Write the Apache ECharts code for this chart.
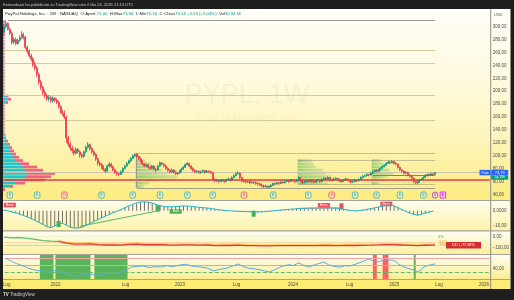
<!DOCTYPE html>
<html>
<head>
<meta charset="utf-8">
<script src="https://cdn.jsdelivr.net/npm/echarts@6.0.0/dist/echarts.min.js"></script>
<style>
html,body{margin:0;padding:0;background:#1e1e1e;overflow:hidden;}
#chart{width:514px;height:300px;}
</style>
</head>
<body>
<div id="chart"></div>
<script>
// ================= DATA =================
const categories = Array.from({length: 250}, (_, i) => 'W' + i); // weekly bars
const firstOpen = 292;
const closes = [
300,305,296,290,276,280,274,279,283,288,
284,268,262,255,250,241,236,226,214,206,
198,193,188,190,185,189,186,183,176,168,
166,160,128,118,112,108,104,110,106,101,
99,106,113,117,111,106,102,95,88,86,
82,79,76,84,87,83,78,74,72,71,
75,80,84,88,92,96,100,102,99,95,
91,87,84,86,82,80,84,79,78,84,
89,87,84,80,77,75,78,74,72,73,
76,79,82,86,88,84,80,77,75,76,
74,75,77,74,76,75,74,63,61,62,
60,61,62,60,62,64,62,66,69,72,
73,66,61,60,59,60,58,59,58,57,
56,55,54,52,53,51,52,54,57,56,
58,57,59,58,60,61,60,62,61,60,
62,66,61,58,59,61,60,62,60,59,
61,62,60,63,65,64,66,63,62,64,
65,63,61,60,62,64,63,61,59,60,
62,61,63,66,68,69,71,70,73,75,
77,76,78,80,83,85,88,90,89,91,
88,87,82,78,76,73,74,70,68,65,
60,58,59,62,63,66,69,71,70,72,
71,73.58];
const highs = [
304,310,307,299,293,284,283,282,287,293,
291,286,271,265,258,253,246,239,229,218,
209,202,196,194,193,192,191,189,185,178,
171,170,162,131,121,115,111,113,112,108,
104,108,116,121,119,113,108,104,97,91,
89,85,81,86,90,89,85,80,76,74,
77,82,86,90,94,98,102,104,103,100,
97,93,89,88,87,84,86,85,81,86,
91,90,88,86,82,79,80,79,76,75,
78,81,84,88,90,89,85,82,79,78,
77,77,79,78,78,77,77,75,65,64,
63,63,64,63,64,66,65,68,71,74,
76,74,67,63,62,62,61,61,60,60,
59,58,57,55,55,54,54,56,58,58,
60,59,61,61,62,63,62,64,63,63,
64,68,67,62,61,63,62,64,63,61,
63,64,63,65,67,66,68,67,64,66,
67,66,64,62,64,66,65,64,62,62,
64,63,65,68,70,71,73,72,75,77,
79,79,80,82,85,87,90,92,92,93,
92,90,88,83,79,77,76,75,71,69,
66,61,62,64,65,68,71,72,72,74,
73,73.94];
const lows = [
288,297,294,287,272,273,271,272,277,281,
280,265,258,252,246,238,232,222,210,202,
194,189,185,184,182,182,183,180,173,165,
162,157,120,114,108,104,100,102,103,97,
96,97,104,111,108,103,99,92,85,83,
79,76,73,75,82,81,76,72,69,68,
70,74,79,83,87,90,95,98,97,93,
89,85,82,82,80,78,79,77,74,77,
83,85,82,78,75,72,73,72,70,70,
72,75,78,81,85,82,78,75,73,73,
72,72,74,72,73,73,72,61,59,59,
58,59,60,58,59,61,60,61,65,68,
71,64,59,58,57,58,56,57,56,55,
54,53,52,50,51,50,50,51,53,54,
55,55,56,57,57,59,58,59,60,58,
59,61,59,56,57,58,58,59,58,57,
58,60,58,59,62,62,63,61,60,61,
63,61,59,58,59,61,61,59,57,58,
59,59,60,62,65,67,68,68,69,72,
74,74,75,77,79,82,84,87,87,88,
86,85,80,76,74,71,71,68,66,63,
57,56,56,58,61,62,65,68,68,69,
69,70.16];

const xTickIndex = [1,26,62,90,119,148,177,200,223,246];
const xTickText  = ['Lug','2022','Lug','2023','Lug','2024','Lug','2025','Lug','2026'];
const priceTicks = [40,60,80,100,120,140,160,180,200,220,240,260,280,300];
const macdTicks = [0,-10];
const ddTicks = [0,-100];
const rsiTicks = [40];

// oscillator (one value every 2 weeks)
const macdValues = [
0.5,0,-0.8,-1.5,-2.3,-3.2,-4.2,-5.3,-6.5,-7.8,
-9.2,-10.6,-11.3,-10.2,-8.6,-8.4,-9.6,-11.0,-11.6,-11.5,
-11.0,-9.8,-8.5,-7.2,-6.0,-4.8,-3.6,-2.5,-1.4,-0.4,
0.8,2.0,3.2,4.3,5.2,5.8,5.9,5.7,5.0,4.2,
3.4,2.8,2.6,2.6,2.8,3.0,3.2,3.1,2.9,2.6,
2.3,2.0,1.8,1.5,1.1,0.7,0.4,0.1,-0.1,-0.3,
-0.4,-0.5,-0.6,-0.7,-0.8,-0.9,-0.8,-0.6,-0.4,-0.1,
0.2,0.5,0.7,0.9,1.1,1.3,1.5,1.6,1.7,1.8,
1.8,1.9,1.9,1.9,1.8,1.7,1.4,1.0,0.5,0.1,
-0.2,0.0,0.4,0.9,1.4,1.9,2.5,3.1,3.6,3.9,
3.2,2.0,0.8,-0.5,-1.6,-2.5,-3.0,-2.4,-1.6,-0.9,
-0.3];
const macdSignalWeeks  = [3, 28, 79, 88, 128, 164, 173, 196];
const macdSignalValues = [3.8, -8.9, 1.5, -0.5, -2, 3.6, 3, 4.5];
const macdSignalSide   = ['bear','bull','bull','bull','bull','bear','bear','bear'];
const macdSignalText   = ['Bear','','','Bull','','Bear','','Bear'];
const bullDivergence = [[39, -10.4], [80, 0.2]];
const bearDivergence = [[150, 1.5], [173, 1.9]];

// drawdown from ATH, %
const ddPoints = [[0,-3.2],[1,-1.6],[4,-11],[8,-8.7],[12,-15.5],[16,-23.9],[20,-36.1],[24,-40.3],[28,-43.2],[32,-58.7],[36,-66.5],[40,-68.1],[44,-64.2],[48,-71.6],[52,-75.5],[56,-74.8],[60,-75.8],[64,-70.3],[68,-68.1],[72,-72.9],[76,-72.9],[80,-71.3],[84,-75.2],[88,-76.8],[92,-73.5],[96,-74.2],[100,-76.1],[104,-75.5],[108,-80.3],[112,-80],[116,-80],[120,-76.5],[124,-81],[128,-81.3],[132,-82.6],[136,-83.2],[140,-81.3],[144,-80.6],[148,-80.3],[152,-80.3],[156,-80.6],[160,-80.3],[164,-79],[168,-80],[172,-80.3],[176,-79.7],[180,-80],[184,-78.1],[188,-76.5],[192,-74.8],[196,-71.6],[200,-71.6],[204,-75.5],[208,-78.1],[212,-81],[216,-77.7],[220,-77.1],[221,-76.3]];
const ddLevels = [0, -50, -75];
const ddLevelText = ['0%', '-50%', '-75%'];
const ddLast = -77.58;

// RSI
const rsiPoints = [[0,71],[2,66],[4,60],[6,55],[8,51],[10,47],[12,42],[15,37],[18,34],[20,33],[22,31],[25,35],[27,33],[29,31],[31,28],[33,22],[35,21],[37,19],[39,22],[41,26],[43,23],[45,24],[47,22],[49,21],[51,24],[54,28],[57,26],[60,32],[63,37],[65,45],[68,47],[71,48],[74,44],[77,46],[80,45],[83,49],[86,46],[88,48],[90,51],[93,53],[96,48],[99,46],[101,45],[104,42],[107,34],[110,38],[112,40],[114,42],[117,48],[120,54],[122,47],[125,42],[128,40],[131,37],[134,33],[136,31],[139,38],[141,44],[143,48],[146,52],[148,49],[151,57],[153,51],[156,45],[158,49],[161,55],[164,59],[166,52],[169,47],[172,45],[175,49],[177,48],[180,53],[183,59],[185,64],[187,68],[189,63],[191,59],[193,62],[195,66],[197,65],[199,65],[201,60],[202,54],[204,48],[205,45],[207,41],[210,37],[212,31],[214,38],[215,45],[217,49],[219,52],[221,54]];
const rsiBuyZones  = [[18,25],[26,44],[46,63],[210,211]];
const rsiSellZones = [[189,191],[194,197]];
const rsiLevels = [70, 50, 30];

// events
const earningsWeeks = [3,17,50,66,80,94,107,138,156,180,191,203,215];
const alertWeeks = [31,123,168];
const otherWeeks = [221];
const futureWeeks = [225];

// whole-history volume profile (5 USD bins)
const profileLow  = [45,50,55,60,65,70,75,80,85,90,95,100,105,110,115,120,125,130,135,140,145,150,155,160,165,170,175,180,185,190,195,200,205,210,215,220,225,230,235,240,245,250,255,260,265,270,275,280,285,290,295,300,305];
const profileUp   = [10,60,120,200,220,240,220,200,160,120,100,80,70,60,50,30,20,15,10,10,10,10,10,10,10,10,10,25,45,30,10,10,10,10,10,10,10,10,10,10,10,10,10,10,10,10,10,10,12,12,12,12,12];
const profileDown = [10,40,100,220,260,280,180,140,100,80,60,50,40,30,20,20,10,10,5,5,5,5,5,5,5,5,5,25,35,25,5,5,5,5,5,5,5,5,5,5,5,5,5,5,5,5,5,5,8,8,8,8,8];
// fixed-range volume profiles
const vp1Start = 68, vp1Low = [50,55,60,65,70,75,80,85,90,95,100], vp1Vol = [80,140,400,420,320,270,180,150,100,60,30];
const vp2Start = 151, vp2Low = [55,60,65,70,75,80,85,90], vp2Vol = [300,380,340,280,260,180,160,140];
const vp3Start = 189, vp3Low = [55,60,65,70,75,80,85,90], vp3Vol = [80,120,160,220,180,140,120,100];
const binSize = 5;

// horizontal levels
const athPrice = 310.16;
const resistanceLevels = [263, 244, 193, 155.4];
const rangeHigh = 104, rangeLow = 50.25;
const box2High = 93.3, box2Low = 56;
const pocPrice = 63, poc3Price = 70;
const lastClose = 73.58, postPrice = 73.79;

// ================= CHART =================
const ohlc = closes.map((c, i) => [i === 0 ? firstOpen : closes[i - 1], c, lows[i], highs[i]]);
const macdPairs = macdValues.map((v, k) => [2 * k, v]);
const ddGreen = ddPoints.filter(p => p[0] <= 28);
const ddRed = ddPoints.filter(p => p[0] >= 28);

const FONT = 'Liberation Sans';
const GL = 3, GR = 23.3;
const AXIS_COLOR = '#4a4a4a';
const VOL_PX = 0.1;
const EVENT_Y = 39;

const chart = echarts.init(document.getElementById('chart'), null, {renderer: 'canvas', width: 514, height: 300});

function fmtNum(v, d) { return (v < 0 ? '\u2212' : '') + Math.abs(v).toFixed(d).replace('.', ','); }

function yAxisFor(gi, min, max, ticks, fmt) {
  return {
    type: 'value', gridIndex: gi, position: 'right', min, max, z: 10,
    axisLine: {show: false}, axisTick: {show: false}, splitLine: {show: false},
    axisLabel: {customValues: ticks, formatter: fmt, fontSize: 4.5, color: AXIS_COLOR, margin: 2, fontFamily: FONT}
  };
}
function xAxisFor(gi) {
  return {
    type: 'category', gridIndex: gi, data: categories, boundaryGap: true, show: gi === 3, z: 10,
    axisLine: {show: false}, axisTick: {show: false}, splitLine: {show: false},
    axisLabel: {
      interval: (idx) => xTickIndex.includes(idx),
      formatter: (val, idx) => { const k = xTickIndex.indexOf(idx); return k >= 0 ? xTickText[k] : ''; },
      fontSize: 4.5, color: AXIS_COLOR, margin: 3, fontFamily: FONT
    }
  };
}

function profileRender(params, api) {
  const start = api.value(0), lo = api.value(1), hi = api.value(2), up = api.value(3), dn = api.value(4);
  const half = api.size([1, 0])[0] / 2;
  const top = api.coord([start, hi]), bot = api.coord([start, lo]);
  const x0 = top[0] - half, y = top[1] + 0.25, h = Math.max(bot[1] - top[1] - 0.5, 0.4);
  const ch = [{type: 'rect', shape: {x: x0, y, width: up * VOL_PX, height: h}, style: {fill: 'rgba(0,188,212,0.85)'}}];
  if (dn > 0) ch.push({type: 'rect', shape: {x: x0 + up * VOL_PX, y, width: dn * VOL_PX, height: h}, style: {fill: 'rgba(236,64,122,0.8)'}});
  return {type: 'group', children: ch};
}
function vpRender(params, api) {
  const start = api.value(0), lo = api.value(1), hi = api.value(2), vol = api.value(3);
  const half = api.size([1, 0])[0] / 2;
  const top = api.coord([start, hi]), bot = api.coord([start, lo]);
  return {type: 'rect', shape: {x: top[0] - half, y: top[1] + 0.25, width: vol * VOL_PX, height: Math.max(bot[1] - top[1] - 0.5, 0.4)},
    style: {fill: {type: 'linear', x: 0, y: 0, x2: 1, y2: 0, colorStops: [{offset: 0, color: 'rgba(76,175,80,0.55)'}, {offset: 1, color: 'rgba(129,199,132,0.35)'}]}}};
}
const profileData = profileLow.map((lo, k) => [0, lo, lo + binSize, profileUp[k], profileDown[k]]);
const vpData = []
  .concat(vp1Low.map((lo, k) => [vp1Start, lo, lo + binSize, vp1Vol[k]]))
  .concat(vp2Low.map((lo, k) => [vp2Start, lo, lo + binSize, vp2Vol[k]]))
  .concat(vp3Low.map((lo, k) => [vp3Start, lo, lo + binSize, vp3Vol[k]]));

function seg(i0, i1, v, color, type, width) {
  return [{coord: [i0, v], lineStyle: {color, type, width}}, {coord: [i1, v]}];
}
const mainLines = [
  seg(2, 221, athPrice, '#9a9a9a', 'solid', 1),
  ...resistanceLevels.map(v => seg(0, 221, v, '#d4cb9c', 'solid', 1)),
  seg(vp1Start, 221, rangeHigh, '#8a8a80', 'dotted', 1),
  seg(vp1Start, 221, rangeLow, '#a09e8c', 'solid', 1),
  seg(vp2Start, 221, box2High, '#8a8a80', 'dotted', 1),
  seg(vp2Start, 221, box2Low, '#8a8a80', 'dotted', 1),
  seg(0, 249, lastClose, '#c9c6b4', 'solid', 1),
  seg(0, 249, pocPrice, '#f23645', 'solid', 1.5),
  seg(vp3Start, 221, poc3Price, '#5c7cfa', 'solid', 1),
  [{coord: [vp1Start, rangeHigh], lineStyle: {color: '#9a9a8a', width: 1, type: 'solid'}}, {coord: [vp1Start, rangeLow]}]
];

function eventSeries(weeks, symbol, fill, border, letter) {
  return {
    type: 'scatter', xAxisIndex: 0, yAxisIndex: 0, z: 6, silent: true,
    data: weeks.map(i => [i, EVENT_Y]), symbol, symbolSize: [5.5, 6],
    itemStyle: {color: fill, borderColor: border, borderWidth: 0.9},
    label: {show: true, position: 'inside', formatter: letter, fontSize: 3.6, color: border, fontFamily: FONT, fontWeight: 'bold'}
  };
}

const bg = (y, h, stops) => ({type: 'rect', z: 0, silent: true, shape: {x: GL, y, width: 507.7, height: h},
  style: {fill: {type: 'linear', x: 0, y: 0, x2: 0, y2: 1, colorStops: stops.map((c, k) => ({offset: k / (stops.length - 1), color: c}))}}});
const hline = (y, x1, x2, color) => ({type: 'line', z: 50, silent: true, shape: {x1, y1: y, x2, y2: y}, style: {stroke: color, lineWidth: 1}});

const baseGraphics = [
  bg(9, 191, ['#fffef8', '#fffbe2', '#fef5bd', '#fcec80']),
  bg(200, 30.7, ['#fffdf0', '#fdf3a8']),
  bg(230.7, 23.3, ['#fffef6', '#fcf09c']),
  bg(254, 25, ['#fffef4', '#fcee92']),
  {type: 'rect', z: 0, silent: true, shape: {x: GL, y: 279, width: 507.7, height: 10}, style: {fill: '#fdec74'}},
  hline(200.5, GL, 510.7, '#a5a39a'),
  hline(231, GL, 510.7, '#a5a39a'),
  hline(254.5, GL, 510.7, '#a5a39a'),
  hline(279.5, GL, 510.7, '#a5a39a'),
  {type: 'line', z: 50, silent: true, shape: {x1: 490.7, y1: 9, x2: 490.7, y2: 289}, style: {stroke: '#8f8d85', lineWidth: 1}},
  {type: 'line', z: 50, silent: true, shape: {x1: 510.5, y1: 9, x2: 510.5, y2: 289}, style: {stroke: '#8f8d85', lineWidth: 1}},
  // watermark
  {type: 'text', z: 1, silent: true, style: {x: 247, y: 96, text: 'PYPL, 1W', font: '27px "Liberation Sans"', fill: 'rgba(150,190,140,0.1)', align: 'center', verticalAlign: 'middle', textAlign: 'center', textVerticalAlign: 'middle'}},
  {type: 'text', z: 1, silent: true, style: {x: 247, y: 118, text: 'PayPal Holdings, Inc.', font: '10.5px "Liberation Sans"', fill: 'rgba(150,190,140,0.1)', align: 'center', verticalAlign: 'middle', textAlign: 'center', textVerticalAlign: 'middle'}},
  // top bar & header
  {type: 'text', z: 100, silent: true, style: {x: 3, y: 4.5, text: 'Kemarduzzi ha pubblicato su TradingView.com il Giu 24, 2025 21:14 UTC', font: '4px "Liberation Sans"', fill: '#c9c9c9', verticalAlign: 'middle', textVerticalAlign: 'middle'}},
  {type: 'text', z: 100, silent: true, style: {x: 5, y: 14.3,
    text: '{n|PayPal Holdings, Inc. · 1W · NASDAQ}  {k|O·Apert.}{v|71,00}  {k|H·Max}{v|73,94}  {k|L·Min}{v|70,16}  {k|C·Chius}{v|73,58 +3,53 (+5,04%)}  {k|Vol}{v|30,94 M}',
    font: '4.3px "Liberation Sans"', verticalAlign: 'middle', textVerticalAlign: 'middle',
    rich: {n: {fill: '#131722', fontSize: 4.3, fontFamily: FONT}, k: {fill: '#131722', fontSize: 4.3, fontFamily: FONT}, v: {fill: '#089981', fontSize: 4.3, fontFamily: FONT}}}},
  {type: 'text', z: 100, silent: true, style: {x: 494, y: 14.7, text: 'USD', font: '4px "Liberation Sans"', fill: '#555', verticalAlign: 'middle', textVerticalAlign: 'middle'}},
  // footer
  {type: 'text', z: 100, silent: true, style: {x: 3, y: 294.5, text: '{b|TV} TradingView', font: '4.5px "Liberation Sans"', fill: '#cfcfcf', verticalAlign: 'middle', textVerticalAlign: 'middle', rich: {b: {fill: '#e0e0e0', fontSize: 4.5, fontWeight: 'bold', fontFamily: FONT}}}}
];

const option = {
  animation: false,
  backgroundColor: '#1e1e1e',
  textStyle: {fontFamily: FONT},
  grid: [
    {left: GL, right: GR, top: 10, height: 190},
    {left: GL, right: GR, top: 200, height: 30.7},
    {left: GL, right: GR, top: 230.7, height: 23.3},
    {left: GL, right: GR, top: 254, height: 25}
  ],
  xAxis: [xAxisFor(0), xAxisFor(1), xAxisFor(2), xAxisFor(3)],
  yAxis: [
    yAxisFor(0, 31.3, 325.9, priceTicks, v => fmtNum(v, 2)),
    yAxisFor(1, -13.33, 7.13, macdTicks, v => v === 0 ? '0,0000' : fmtNum(v, 2)),
    yAxisFor(2, -157, 54.5, ddTicks, v => fmtNum(v, 2)),
    yAxisFor(3, 10.9, 82.3, rsiTicks, v => fmtNum(v, 2))
  ],
  graphic: {elements: baseGraphics},
  series: [
    {type: 'custom', name: 'profile', xAxisIndex: 0, yAxisIndex: 0, z: 3, silent: true, renderItem: profileRender, encode: {x: 0, y: [1, 2]}, data: profileData},
    {type: 'custom', name: 'vp', xAxisIndex: 0, yAxisIndex: 0, z: 3, silent: true, renderItem: vpRender, encode: {x: 0, y: [1, 2]}, data: vpData},
    {
      type: 'candlestick', name: 'PYPL', xAxisIndex: 0, yAxisIndex: 0, z: 5, barWidth: 1.5,
      data: ohlc,
      itemStyle: {color: '#089981', color0: '#f23645', borderColor: '#089981', borderColor0: '#f23645', borderWidth: 0.8},
      markLine: {silent: true, symbol: ['none', 'none'], label: {show: false}, z: 4, data: mainLines}
    },
    eventSeries(earningsWeeks, 'roundRect', '#dff3ef', '#26a69a', 'E'),
    eventSeries(alertWeeks, 'roundRect', '#fde3e6', '#f23645', 'D'),
    eventSeries(otherWeeks, 'circle', '#f3e5f5', '#9c27b0', 'S'),
    eventSeries(futureWeeks, 'rect', '#f8bbf0', '#d500f9', 'E'),
    {
      type: 'bar', name: 'hist', xAxisIndex: 1, yAxisIndex: 1, barWidth: 0.7, z: 3, silent: true,
      data: macdPairs, itemStyle: {color: '#707070'}
    },
    {
      type: 'line', name: 'osc', xAxisIndex: 1, yAxisIndex: 1, z: 5, silent: true, showSymbol: false, symbol: 'none',
      data: macdPairs, lineStyle: {color: '#1fb8cc', width: 1},
      markLine: {silent: true, symbol: ['none', 'none'], label: {show: false}, data: [
        [{coord: bullDivergence[0], lineStyle: {color: '#5cb85c', width: 1, type: 'solid'}}, {coord: bullDivergence[1]}],
        [{coord: bearDivergence[0], lineStyle: {color: '#f08a8a', width: 1, type: 'solid'}}, {coord: bearDivergence[1]}]
      ]},
      markPoint: {silent: true, data: macdSignalWeeks.map((w, k) => ({
        coord: [w, macdSignalValues[k]], symbol: 'rect',
        symbolSize: macdSignalText[k] ? [12, 4.6] : [4, 6],
        itemStyle: {color: macdSignalSide[k] === 'bear' ? '#f0505a' : '#4caf50'},
        label: {show: !!macdSignalText[k], position: 'inside', formatter: macdSignalText[k], fontSize: 3.6, color: '#fff', fontFamily: FONT}
      }))}
    },
    {
      type: 'line', name: 'ddA', xAxisIndex: 2, yAxisIndex: 2, z: 5, silent: true, showSymbol: false, symbol: 'none',
      data: ddGreen, lineStyle: {color: '#66bb6a', width: 1.2},
      markLine: {silent: true, symbol: ['none', 'none'], data: ddLevels.map((v, k) => [
        {coord: [0, v], lineStyle: {color: ['#eef6d8', '#fbd9a4', '#f6c1b4'][k], width: 1, type: 'solid'},
         label: {show: true, position: 'end', formatter: ddLevelText[k], fontSize: 3.8, distance: 3, color: ['#4caf50', '#ff9800', '#ff7043'][k], fontFamily: FONT}},
        {coord: [221, v]}])}
    },
    {
      type: 'line', name: 'ddB', xAxisIndex: 2, yAxisIndex: 2, z: 6, silent: true, showSymbol: false, symbol: 'none',
      data: ddRed, lineStyle: {color: '#e53935', width: 1.3, shadowColor: 'rgba(255,152,0,0.45)', shadowBlur: 0, shadowOffsetY: -1}
    },
    {
      type: 'line', name: 'rsi', xAxisIndex: 3, yAxisIndex: 3, z: 5, silent: true, showSymbol: false, symbol: 'none',
      data: rsiPoints, lineStyle: {color: '#5aa9e6', width: 1},
      markArea: {silent: true, data: [
        ...rsiBuyZones.map(z => [{xAxis: z[0], itemStyle: {color: 'rgba(76,175,80,0.92)'}}, {xAxis: z[1]}]),
        ...rsiSellZones.map(z => [{xAxis: z[0], itemStyle: {color: 'rgba(255,82,82,0.9)'}}, {xAxis: z[1]}])
      ]},
      markLine: {silent: true, symbol: ['none', 'none'], label: {show: false}, data: [
        [{coord: [0, rsiLevels[0]], lineStyle: {color: '#f3a3a3', width: 1, type: 'solid'}}, {coord: [249, rsiLevels[0]]}],
        [{coord: [0, rsiLevels[1]], lineStyle: {color: '#b9b7aa', width: 1, type: 'solid'}}, {coord: [249, rsiLevels[1]]}],
        [{coord: [0, rsiLevels[2]], lineStyle: {color: '#66bb6a', width: 1, type: 'dashed'}}, {coord: [249, rsiLevels[2]]}]
      ]}
    }
  ]
};
chart.setOption(option);

// price tags positioned through the axes
const postY = chart.convertToPixel({gridIndex: 0}, [0, postPrice])[1];
const ddY = chart.convertToPixel({gridIndex: 2}, [0, ddLast])[1];
const tag = (x, y, w, h, fill, text, fs) => [
  {type: 'rect', z: 90, silent: true, shape: {x, y, width: w, height: h}, style: {fill}},
  {type: 'text', z: 91, silent: true, style: {x: x + w / 2, y: y + h / 2, text, font: fs + 'px "Liberation Sans"', fill: '#fff', align: 'center', verticalAlign: 'middle', textAlign: 'center', textVerticalAlign: 'middle'}}
];
chart.setOption({graphic: {elements: baseGraphics.concat(
  tag(479.5, postY - 2.7, 11, 5.4, '#2962ff', 'Post', 3.6),
  tag(491.2, postY - 2.7, 17, 5.4, '#2962ff', fmtNum(postPrice, 2), 4),
  tag(491.2, postY + 2.7, 17, 4.4, '#089981', '2g 13h', 3.4),
  tag(446, ddY - 3.3, 35, 6.6, '#d32f2f', 'DD | ' + fmtNum(ddLast, 2).replace('\u2212', '-') + '%', 3.8)
)}});
</script>
</body>
</html>
